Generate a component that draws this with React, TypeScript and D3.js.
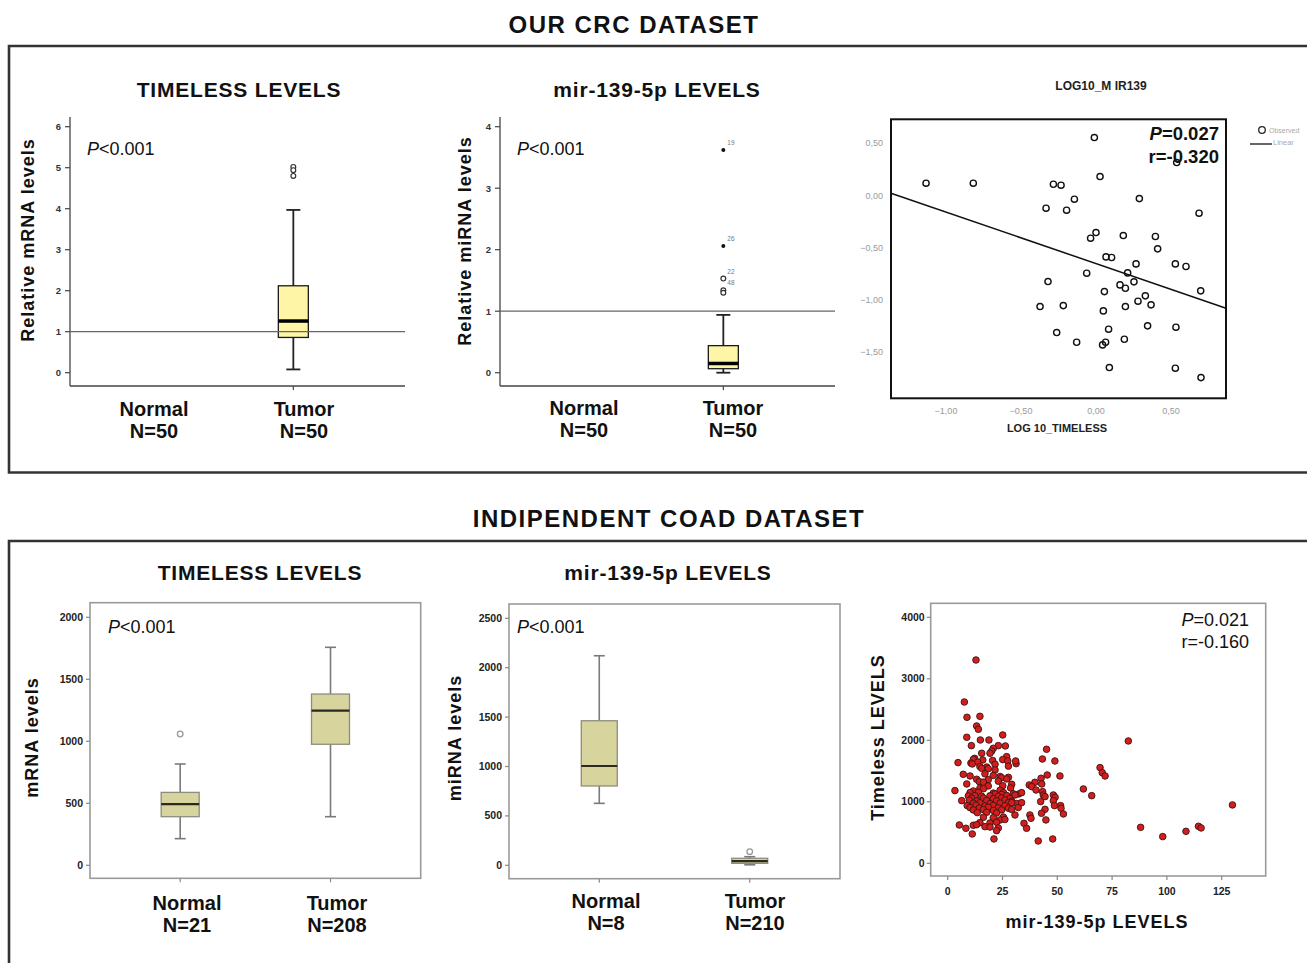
import React from 'react';
import * as d3 from 'd3';

const FONT = "'Liberation Sans', Arial, Helvetica, sans-serif";
const NARROW = "'Liberation Sans Narrow', 'Arial Narrow', 'Liberation Sans', Arial, sans-serif";

// ---------- data ----------
const groups = ['Normal', 'Tumor'];

// box stats: [whisker low, Q1, median, Q3, whisker high]
const crcTimelessTumor = [0.08, 0.86, 1.26, 2.12, 3.97];
const crcTimelessOutliers = [5.02, 4.94, 4.8];
const crcTimelessTicks = [0, 1, 2, 3, 4, 5, 6];
const crcTimelessN = ['N=50', 'N=50'];

const crcMirTumor = [0.0, 0.065, 0.15, 0.44, 0.94];
const crcMirOutliers = [3.62, 2.06, 1.53, 1.34, 1.3];
const crcMirOutlierIds = ['19', '26', '22', '48', ''];
const crcMirExtreme = [true, true, false, false, false];
const crcMirTicks = [0, 1, 2, 3, 4];
const crcMirN = ['N=50', 'N=50'];

// log10 scatter (x = LOG10_TIMELESS, y = LOG10_MIR139)
const logPoints: [number, number][] = [
  [-1.133, 0.118], [-0.818, 0.118], [-0.011, 0.555], [0.027, 0.182], [-0.284, 0.108],
  [-0.233, 0.099], [-0.144, -0.035], [-0.333, -0.121], [-0.196, -0.14], [0.289, -0.029],
  [0.687, -0.169], [0.0, -0.354], [-0.036, -0.408], [0.182, -0.383], [0.396, -0.392],
  [0.411, -0.51], [0.067, -0.587], [0.104, -0.593], [0.267, -0.654], [0.529, -0.654],
  [0.6, -0.679], [-0.062, -0.743], [0.211, -0.74], [-0.32, -0.823], [0.16, -0.855],
  [0.196, -0.887], [0.253, -0.826], [0.056, -0.919], [0.698, -0.912], [0.329, -0.96],
  [0.28, -1.011], [-0.373, -1.062], [-0.218, -1.053], [0.367, -1.046], [0.196, -1.062],
  [0.049, -1.104], [0.084, -1.279], [0.344, -1.247], [0.533, -1.26], [-0.262, -1.311],
  [-0.129, -1.404], [0.189, -1.375], [0.064, -1.404], [0.044, -1.429], [0.089, -1.646],
  [0.529, -1.652], [0.7, -1.742], [0.538, 0.316],
];
const logFitIntercept = -0.651;
const logFitSlope = -0.493;
const logXTicks = [-1, -0.5, 0, 0.5];
const logYTicks = [0.5, 0, -0.5, -1, -1.5];

// COAD dataset
const coadTimelessNormal = [215, 392, 494, 588, 817];
const coadTimelessNormalOut = [1059];
const coadTimelessTumor = [392, 976, 1247, 1381, 1758];
const coadTimelessTicks = [0, 500, 1000, 1500, 2000];
const coadTimelessN = ['N=21', 'N=208'];

const coadMirNormal = [627, 803, 1005, 1463, 2121];
const coadMirTumor = [5, 20, 42, 71, 87];
const coadMirTumorOut = [138];
const coadMirTicks = [0, 500, 1000, 1500, 2000, 2500];
const coadMirN = ['N=8', 'N=210'];

// [mir-139-5p, TIMELESS]
const coadPoints: [number, number][] = [
  [12.9, 3306], [7.6, 2623], [8.8, 2374], [14.7, 2390], [13.2, 2233], [14.0, 2179], [25.1, 2087],
  [8.7, 2049], [14.9, 2005], [18.8, 2005], [10.8, 1913], [23.1, 1913], [26.3, 1908], [20.8, 1870],
  [20.1, 1827], [19.3, 1789], [15.5, 1789], [26.9, 1734], [12.3, 1707], [11.7, 1690], [16.0, 1680],
  [20.5, 1672], [25.1, 1686], [27.4, 1665], [4.7, 1637], [10.6, 1630], [13.7, 1645], [11.2, 1615],
  [21.6, 1610], [31.2, 1620], [14.7, 1572], [17.8, 1565], [27.7, 1580], [15.5, 1545], [18.5, 1538],
  [21.6, 1518], [7.1, 1447], [17.0, 1455], [10.2, 1420], [20.8, 1428], [23.9, 1412], [27.7, 1398],
  [24.6, 1390], [13.2, 1366], [18.5, 1360], [26.9, 1372], [14.4, 1328], [16.3, 1320], [23.1, 1335],
  [8.7, 1290], [29.2, 1285], [18.5, 1257], [25.1, 1262], [14.7, 1220], [16.3, 1212], [28.7, 1225],
  [3.3, 1182], [11.7, 1176], [23.9, 1188], [10.2, 1149], [14.0, 1155], [20.8, 1142], [25.4, 1150],
  [21.6, 1127], [24.6, 1120], [29.9, 1132], [32.4, 1127], [9.4, 1095], [12.4, 1100], [15.5, 1090],
  [19.3, 1098], [23.1, 1088], [26.9, 1102], [10.9, 1057], [16.3, 1062], [20.8, 1050], [24.6, 1060],
  [28.4, 1055], [6.4, 1019], [9.9, 1025], [13.2, 1012], [17.8, 1020], [22.3, 1015], [26.1, 1028],
  [29.2, 1010], [11.7, 976], [14.7, 982], [19.3, 970], [23.9, 978], [27.7, 985], [31.5, 972],
  [8.9, 938], [12.9, 945], [17.0, 932], [20.8, 940], [26.1, 935], [10.2, 905], [14.4, 898],
  [18.5, 910], [23.1, 902], [27.7, 895], [32.2, 908], [11.7, 867], [16.3, 872], [20.8, 860],
  [24.6, 868], [29.2, 875], [13.5, 824], [17.8, 830], [22.3, 818], [30.7, 786], [16.3, 748],
  [20.8, 742], [25.4, 752], [23.9, 705], [26.1, 712], [14.7, 661], [19.3, 655], [22.3, 668],
  [5.3, 623], [11.7, 618], [13.2, 628], [17.0, 596], [19.3, 590], [8.3, 569], [23.1, 575],
  [22.3, 531], [11.2, 477], [21.1, 396],
  [82.4, 1989], [45.1, 1854], [43.2, 1696], [31.0, 1664], [48.9, 1664], [69.5, 1556], [70.5, 1474],
  [71.8, 1420], [45.4, 1436], [51.2, 1420], [42.6, 1382], [39.8, 1317], [37.2, 1274], [38.3, 1247],
  [42.9, 1290], [40.3, 1192], [61.9, 1209], [65.7, 1100], [43.3, 1165], [43.6, 1111], [44.4, 1084],
  [48.2, 1111], [49.0, 1073], [30.7, 1111], [33.7, 1149], [42.4, 1003], [48.2, 1019], [48.7, 938],
  [51.5, 938], [51.7, 894], [33.7, 986], [29.2, 986], [52.8, 802], [44.4, 878], [42.8, 813],
  [37.5, 786], [38.0, 732], [44.8, 705], [34.8, 650], [36.0, 569], [41.3, 363], [47.9, 396],
  [88.0, 585], [98.1, 434], [108.7, 520], [114.4, 602], [115.6, 575], [129.9, 949],
];
const coadXTicks = [0, 25, 50, 75, 100, 125];
const coadYTicks = [0, 1000, 2000, 3000, 4000];

// ---------- helpers ----------
type BoxStyle = {
  fill: string; stroke: string; sw: number; med: string; medW: number;
  whisk: string; whiskW: number; cap: number;
};
const crcStyle: BoxStyle = {
  fill: '#fff5a6', stroke: '#1a1a1a', sw: 1.3, med: '#000', medW: 3.5,
  whisk: '#222', whiskW: 1.8, cap: 14,
};
const coadStyle: BoxStyle = {
  fill: '#d8d49e', stroke: '#8c8c80', sw: 1.3, med: '#2a2a20', medW: 2.2,
  whisk: '#7a7a7a', whiskW: 1.6, cap: 11,
};

function BoxPlot({ cx, width, stats, y, st }: {
  cx: number; width: number; stats: number[]; y: d3.ScaleLinear<number, number>; st: BoxStyle;
}) {
  const [lo, q1, med, q3, hi] = stats;
  return (
    <g>
      <line x1={cx} x2={cx} y1={y(hi)} y2={y(q3)} stroke={st.whisk} strokeWidth={st.whiskW} />
      <line x1={cx} x2={cx} y1={y(q1)} y2={y(lo)} stroke={st.whisk} strokeWidth={st.whiskW} />
      <line x1={cx - st.cap / 2} x2={cx + st.cap / 2} y1={y(hi)} y2={y(hi)} stroke={st.whisk} strokeWidth={st.whiskW} />
      <line x1={cx - st.cap / 2} x2={cx + st.cap / 2} y1={y(lo)} y2={y(lo)} stroke={st.whisk} strokeWidth={st.whiskW} />
      <rect x={cx - width / 2} y={y(q3)} width={width} height={Math.max(1, y(q1) - y(q3))}
        fill={st.fill} stroke={st.stroke} strokeWidth={st.sw} />
      <line x1={cx - width / 2} x2={cx + width / 2} y1={y(med)} y2={y(med)} stroke={st.med} strokeWidth={st.medW} />
    </g>
  );
}

function PValue({ x, y, rest, anchor = 'start', size = 18, weight = 'normal' }: {
  x: number; y: number; rest: string; anchor?: string; size?: number; weight?: string;
}) {
  return (
    <text x={x} y={y} fontSize={size} fontWeight={weight} textAnchor={anchor as any} fill="#111">
      <tspan fontStyle="italic">P</tspan>{rest}
    </text>
  );
}

function YLabel({ x, y, text, size = 18 }: { x: number; y: number; text: string; size?: number }) {
  return (
    <text transform={`translate(${x},${y}) rotate(-90)`} textAnchor="middle" fontSize={size}
      fontWeight="bold" letterSpacing={1} fill="#111">{text}</text>
  );
}

function CatLabels({ xs, base, n }: { xs: number[]; base: number; n: string[] }) {
  return (
    <g fontSize={20} fontWeight="bold" textAnchor="middle" fill="#111">
      {groups.map((g, i) => (
        <g key={g}>
          <text x={xs[i]} y={base}>{g}</text>
          <text x={xs[i]} y={base + 22}>{n[i]}</text>
        </g>
      ))}
    </g>
  );
}

// top-row SPSS box panel with open axes and reference line at 1
function CrcBoxPanel({ left, right, ticks, stats, children }: {
  left: number; right: number; ticks: number[]; stats: number[];
  children: (y: d3.ScaleLinear<number, number>, cx: number) => React.ReactNode;
}) {
  const y = d3.scaleLinear().domain([0, d3.max(ticks)!]).range([372.7, 126.7]);
  const x = d3.scalePoint<string>().domain(groups).range([left, right]).padding(1);
  const bottom = 386;
  const cx = x('Tumor')!;
  return (
    <g>
      <line x1={left} x2={left} y1={117} y2={bottom} stroke="#444" strokeWidth={1.3} />
      <line x1={left} x2={right} y1={bottom} y2={bottom} stroke="#444" strokeWidth={1.3} />
      {ticks.map(t => (
        <g key={t}>
          <line x1={left - 5} x2={left} y1={y(t)} y2={y(t)} stroke="#444" strokeWidth={1.2} />
          <text x={left - 9} y={y(t) + 3.5} fontSize={9.5} fontWeight="bold" textAnchor="end"
            fontFamily={NARROW} fill="#333">{t}</text>
        </g>
      ))}
      <line x1={cx} x2={cx} y1={bottom} y2={bottom + 4} stroke="#444" strokeWidth={1.2} />
      <BoxPlot cx={cx} width={30} stats={stats} y={y} st={crcStyle} />
      <line x1={left} x2={right} y1={y(1)} y2={y(1)} stroke="#666" strokeWidth={1.2} />
      {children(y, cx)}
    </g>
  );
}

// bottom-row framed box panel
function CoadBoxPanel({ frame, ticks, yTop, boxW, stats, outliers }: {
  frame: [number, number, number, number]; ticks: number[]; yTop: number; boxW: number;
  stats: number[][]; outliers: number[][];
}) {
  const [l, t, r, b] = frame;
  const y = d3.scaleLinear().domain([0, d3.max(ticks)!]).range([865.3, yTop]);
  const x = d3.scalePoint<string>().domain(groups).range([l, r]).padding(0.6);
  return (
    <g>
      <rect x={l} y={t} width={r - l} height={b - t} fill="none" stroke="#9a9a9a" strokeWidth={1.6} />
      {ticks.map(v => (
        <g key={v}>
          <line x1={l - 4} x2={l} y1={y(v)} y2={y(v)} stroke="#888" strokeWidth={1.2} />
          <text x={l - 7} y={y(v) + 3.5} fontSize={10.5} fontWeight="bold" textAnchor="end"
            fontFamily={NARROW} fill="#222">{v}</text>
        </g>
      ))}
      {groups.map((g, i) => (
        <g key={g}>
          <line x1={x(g)!} x2={x(g)!} y1={b} y2={b + 4} stroke="#888" strokeWidth={1.2} />
          <BoxPlot cx={x(g)!} width={boxW} stats={stats[i]} y={y} st={coadStyle} />
          {outliers[i].map((o, j) => (
            <circle key={j} cx={x(g)!} cy={y(o)} r={2.8} fill="#fff" stroke="#9a9a9a" strokeWidth={1.3} />
          ))}
        </g>
      ))}
    </g>
  );
}

const fmtComma = (v: number) => d3.format('.2f')(v).replace('.', ',');

export default function App() {
  // log scatter scales
  const lf: [number, number, number, number] = [891, 119.3, 1226, 398.3];
  const lx = d3.scaleLinear().domain([-1, 0.5]).range([946, 1171]);
  const ly = d3.scaleLinear().domain([-1.5, 0.5]).range([352.3, 143.3]);
  const fitX0 = lx.invert(lf[0]);
  const fitX1 = lx.invert(lf[2]);

  // coad scatter scales
  const cf: [number, number, number, number] = [930.7, 603.3, 1265.7, 876];
  const cx = d3.scaleLinear().domain([0, 125]).range([947.7, 1221.7]);
  const cy = d3.scaleLinear().domain([0, 4000]).range([863.3, 617.3]);

  return (
    <svg width={1307} height={963} style={{ position: 'absolute', left: 0, top: 0, background: '#fff' }}
      fontFamily={FONT}>
      <rect width={1307} height={963} fill="#fff" />

      {/* section titles and frames */}
      <text x={634} y={33} fontSize={24} fontWeight="bold" textAnchor="middle" letterSpacing={1.5} fill="#111">
        OUR CRC DATASET
      </text>
      <path d="M1312,46 H9 V472.5 H1312" fill="none" stroke="#333" strokeWidth={2.6} />
      <text x={669} y={527} fontSize={24} fontWeight="bold" textAnchor="middle" letterSpacing={1.5} fill="#111">
        INDIPENDENT COAD DATASET
      </text>
      <path d="M1312,541 H9 V975" fill="none" stroke="#333" strokeWidth={2.6} />

      {/* panel 1: CRC TIMELESS */}
      <text x={239} y={97} fontSize={21} fontWeight="bold" textAnchor="middle" letterSpacing={0.8} fill="#111">
        TIMELESS LEVELS
      </text>
      <CrcBoxPanel left={70} right={405} ticks={crcTimelessTicks} stats={crcTimelessTumor}>
        {(y, c) => crcTimelessOutliers.map((o, i) => (
          <circle key={i} cx={c} cy={y(o)} r={2.4} fill="#fff" stroke="#333" strokeWidth={1.2} />
        ))}
      </CrcBoxPanel>
      <YLabel x={34} y={240} text="Relative mRNA levels" />
      <PValue x={87} y={155} rest="<0.001" />
      <CatLabels xs={[154, 304]} base={416} n={crcTimelessN} />

      {/* panel 2: CRC mir-139-5p */}
      <text x={657} y={97} fontSize={21} fontWeight="bold" textAnchor="middle" letterSpacing={0.8} fill="#111">
        mir-139-5p LEVELS
      </text>
      <CrcBoxPanel left={500} right={835} ticks={crcMirTicks} stats={crcMirTumor}>
        {(y, c) => crcMirOutliers.map((o, i) => (
          <g key={i}>
            {crcMirExtreme[i]
              ? <circle cx={c} cy={y(o)} r={2} fill="#111" />
              : <circle cx={c} cy={y(o)} r={2.4} fill="#fff" stroke="#333" strokeWidth={1.2} />}
            {crcMirOutlierIds[i] && (
              <text x={c + 4} y={y(o) - 5} fontSize={6.5} fill="#777">{crcMirOutlierIds[i]}</text>
            )}
          </g>
        ))}
      </CrcBoxPanel>
      <YLabel x={471} y={241} text="Relative miRNA levels" />
      <PValue x={517} y={155} rest="<0.001" />
      <CatLabels xs={[584, 733]} base={415} n={crcMirN} />

      {/* panel 3: log scatter (SPSS) */}
      <text x={1101} y={90} fontSize={12} fontWeight="bold" textAnchor="middle" fill="#222">LOG10_M IR139</text>
      <rect x={lf[0]} y={lf[1]} width={lf[2] - lf[0]} height={lf[3] - lf[1]} fill="#fff" stroke="#111" strokeWidth={2} />
      <line x1={lx(fitX0)} x2={lx(fitX1)}
        y1={ly(logFitIntercept + logFitSlope * fitX0)} y2={ly(logFitIntercept + logFitSlope * fitX1)}
        stroke="#111" strokeWidth={1.5} />
      {logPoints.map((p, i) => (
        <circle key={i} cx={lx(p[0])} cy={ly(p[1])} r={3.1} fill="none" stroke="#111" strokeWidth={1.4} />
      ))}
      {logYTicks.map(t => (
        <text key={t} x={883} y={ly(t) + 3} fontSize={9} textAnchor="end" fill="#9a9a9a">{fmtComma(t)}</text>
      ))}
      {logXTicks.map(t => (
        <text key={t} x={lx(t)} y={414} fontSize={9} textAnchor="middle" fill="#9a9a9a">{fmtComma(t)}</text>
      ))}
      <text x={1057} y={431.5} fontSize={11} fontWeight="bold" textAnchor="middle" fill="#222">LOG 10_TIMELESS</text>
      <PValue x={1219} y={140} rest="=0.027" anchor="end" size={18.5} weight="bold" />
      <text x={1219} y={162.7} fontSize={18.5} fontWeight="bold" textAnchor="end" fill="#111">r=-0.320</text>
      <circle cx={1262} cy={130} r={3.3} fill="none" stroke="#222" strokeWidth={1.3} />
      <text x={1269} y={132.5} fontSize={7} fill="#aaa">Observed</text>
      <line x1={1250} x2={1272} y1={144} y2={144} stroke="#333" strokeWidth={1.5} />
      <text x={1273} y={145} fontSize={7.5} fill="#aaa">Linear</text>

      {/* panel 4: COAD TIMELESS */}
      <text x={260} y={580} fontSize={21} fontWeight="bold" textAnchor="middle" letterSpacing={0.8} fill="#111">
        TIMELESS LEVELS
      </text>
      <CoadBoxPanel frame={[90, 602.7, 420.7, 878.3]} ticks={coadTimelessTicks} yTop={617.3} boxW={38}
        stats={[coadTimelessNormal, coadTimelessTumor]} outliers={[coadTimelessNormalOut, []]} />
      <YLabel x={37.5} y={737.5} text="mRNA levels" />
      <PValue x={108} y={633.3} rest="<0.001" />
      <CatLabels xs={[187, 337]} base={910} n={coadTimelessN} />

      {/* panel 5: COAD mir-139-5p */}
      <text x={668} y={580} fontSize={21} fontWeight="bold" textAnchor="middle" letterSpacing={0.8} fill="#111">
        mir-139-5p LEVELS
      </text>
      <CoadBoxPanel frame={[509, 604, 840, 878.7]} ticks={coadMirTicks} yTop={618.3} boxW={36}
        stats={[coadMirNormal, coadMirTumor]} outliers={[[], coadMirTumorOut]} />
      <YLabel x={460.5} y={738} text="miRNA  levels" />
      <PValue x={517} y={633.3} rest="<0.001" />
      <CatLabels xs={[606, 755]} base={908.3} n={coadMirN} />

      {/* panel 6: COAD scatter */}
      <rect x={cf[0]} y={cf[1]} width={cf[2] - cf[0]} height={cf[3] - cf[1]} fill="#fff" stroke="#9a9a9a" strokeWidth={1.6} />
      {coadYTicks.map(t => (
        <g key={t}>
          <line x1={cf[0] - 4} x2={cf[0]} y1={cy(t)} y2={cy(t)} stroke="#888" strokeWidth={1.2} />
          <text x={cf[0] - 6} y={cy(t) + 3.5} fontSize={10.5} fontWeight="bold" textAnchor="end" fontFamily={NARROW} fill="#222">{t}</text>
        </g>
      ))}
      {coadXTicks.map(t => (
        <g key={t}>
          <line x1={cx(t)} x2={cx(t)} y1={cf[3]} y2={cf[3] + 4} stroke="#888" strokeWidth={1.2} />
          <text x={cx(t)} y={895} fontSize={10.5} fontWeight="bold" textAnchor="middle" fontFamily={NARROW} fill="#222">{t}</text>
        </g>
      ))}
      {coadPoints.map((p, i) => (
        <circle key={i} cx={cx(p[0])} cy={cy(p[1])} r={3.3} fill="#d41e1e" stroke="#3a1414" strokeWidth={0.9} />
      ))}
      <YLabel x={884} y={737.5} text="Timeless LEVELS" />
      <text x={1097} y={928.3} fontSize={18} fontWeight="bold" textAnchor="middle" letterSpacing={1} fill="#111">
        mir-139-5p LEVELS
      </text>
      <PValue x={1249} y={626} rest="=0.021" anchor="end" />
      <text x={1249} y={648.3} fontSize={18} textAnchor="end" fill="#111">r=-0.160</text>
    </svg>
  );
}
